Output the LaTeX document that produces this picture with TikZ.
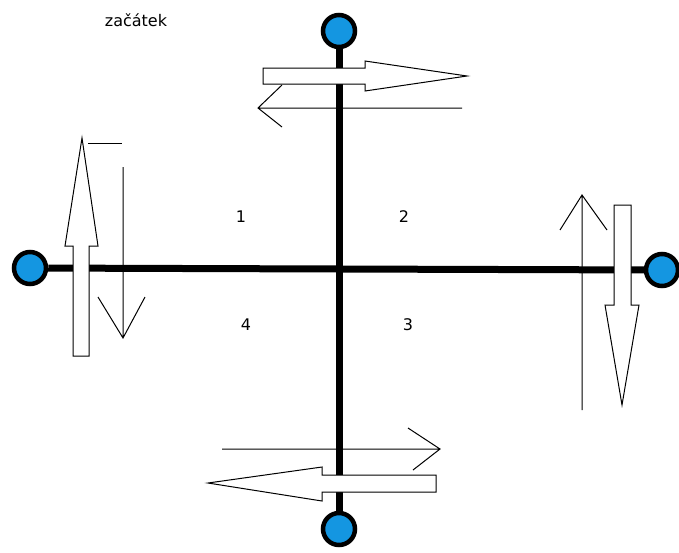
\documentclass[tikz,border=0pt]{standalone}
\usepackage{fontspec}
\setmainfont{DejaVu Sans}
\usepackage{tikz}
\usetikzlibrary{positioning}
\definecolor{dotblue}{RGB}{20,150,225}

\begin{document}
\begin{tikzpicture}[
  x=1pt, y=-1pt,
  font=\fontsize{16}{19}\selectfont,
  dot/.style={circle, draw=black, line width=4.5pt, fill=dotblue, minimum size=32pt, inner sep=0pt},
  axis/.style={line width=7pt},
  hollow/.style={draw=black, fill=white, line width=1pt, line join=miter},
  thin/.style={line width=1pt}
]
  \useasboundingbox (0,0) rectangle (679,552);
  % end points of the cross
  \node[dot] (top) at (339,31) {};
  \node[dot] (bot) at (339,529) {};
  \node[dot] (lft) at (30,268) {};
  \node[dot] (rgt) at (662,270) {};
  \coordinate (mid) at (339,269);
  \draw[axis] (top) -- (bot);
  \draw[axis] (lft) -- (mid) -- (rgt);
  % top
  \draw[hollow] (263,68) -- (365,68) -- (365,61) -- (467,76) -- (365,91) -- (365,84) -- (263,84) -- cycle;
  \draw[thin] (462,108) -- (258,108) (282,85) -- (258,108) -- (282,127);
  % left
  \draw[hollow] (73,356) -- (73,246) -- (65,246) -- (82,138) -- (98,246) -- (89,246) -- (89,356) -- cycle;
  \draw[thin] (123,167) -- (123,338) (98,297) -- (123,338) -- (145,297);
  \draw[thin] (88,143) -- (122,143);
  % right
  \draw[thin] (582,410) -- (582,195) (560,230) -- (582,195) -- (607,230);
  \draw[hollow] (614,205) -- (631,205) -- (631,305) -- (639,305) -- (622,405) -- (605,305) -- (614,305) -- cycle;
  % bottom
  \draw[thin] (222,449) -- (440,449) (408,428) -- (440,449) -- (413,470);
  \draw[hollow] (436,475) -- (322,475) -- (322,467) -- (208,483) -- (322,501) -- (322,492) -- (436,492) -- cycle;
  % labels
  \node (start) at (136,20) {začátek};
  \node (q1) at (241,217) {1};
  \node (q2) at (404,217) {2};
  \node (q3) at (408,325) {3};
  \node (q4) at (246,325) {4};
\end{tikzpicture}
\end{document}
